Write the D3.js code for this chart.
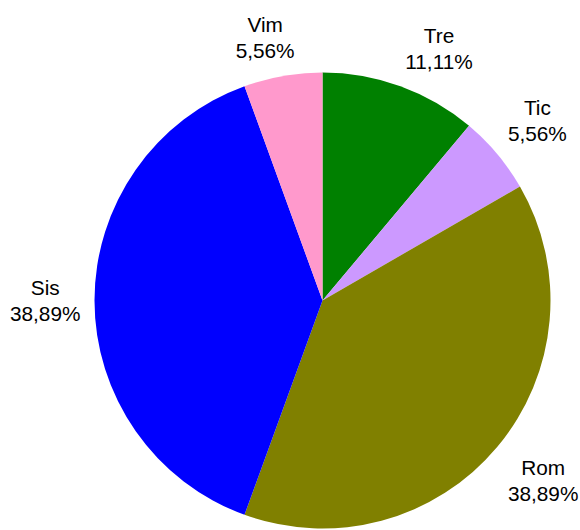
<!DOCTYPE html>
<html>
<head>
  <script src="https://d3js.org/d3.v7.min.js"></script>
</head>

<style>
body { margin: 0; background: #fff; }
text { font-family: "Liberation Sans", Arial, sans-serif; }
</style>

<body>
</body>

<script>
    var names = ["Tre", "Tic", "Rom", "Sis", "Vim"];
    var counts = [2, 1, 7, 7, 1];
    var colors = ["#008000", "#cc99ff", "#808000", "#0000ff", "#ff99cc"];

    var width = 580, height = 530;
    var cx = 322.5, cy = 300.5, radius = 228;

    var svg = d3.select("body")
      .append("svg")
      .attr("width", width)
      .attr("height", height);

    var total = d3.sum(counts);
    var data = names.map(function(n, i) {
      return {name: n, value: counts[i], color: colors[i]};
    });

    var pie = d3.pie()
      .value(function(d) { return d.value })
      .sort(null);

    var arc = d3.arc()
      .innerRadius(0)
      .outerRadius(radius);

    var g = svg.append("g")
      .attr("transform", "translate(" + cx + "," + cy + ")");

    var arcs = pie(data);

    g.selectAll("path")
      .data(arcs)
      .enter()
      .append("path")
      .attr("d", arc)
      .attr("fill", function(d) { return d.data.color });

    var fmt = function(v) {
      return (v / total * 100).toFixed(2).replace(".", ",") + "%";
    };

    var fontSize = 20.8, lineH = 26;
    var labelR = 242;

    arcs.forEach(function(d) {
      var a = (d.startAngle + d.endAngle) / 2;
      var ax = labelR * Math.sin(a), ay = -labelR * Math.cos(a);
      var lbl = g.append("text")
        .attr("font-size", fontSize)
        .attr("text-anchor", "middle")
        .attr("fill", "#000");
      lbl.append("tspan").attr("x", 0).attr("dy", 0).text(d.data.name);
      lbl.append("tspan").attr("x", 0).attr("dy", lineH).text(fmt(d.data.value));
      // push the label block away from the pie, outward from its anchor point
      var box = lbl.node().getBBox();
      var kx = Math.max(-1, Math.min(1, Math.sin(a) * 3));
      var ky = Math.max(-1, Math.min(1, -Math.cos(a) * 3));
      var bx = ax + kx * box.width / 2;
      var by = ay + ky * box.height / 2;
      var shiftY = by - (box.y + box.height / 2);
      lbl.attr("transform", "translate(" + bx + "," + shiftY + ")");
    });
</script>
</html>
